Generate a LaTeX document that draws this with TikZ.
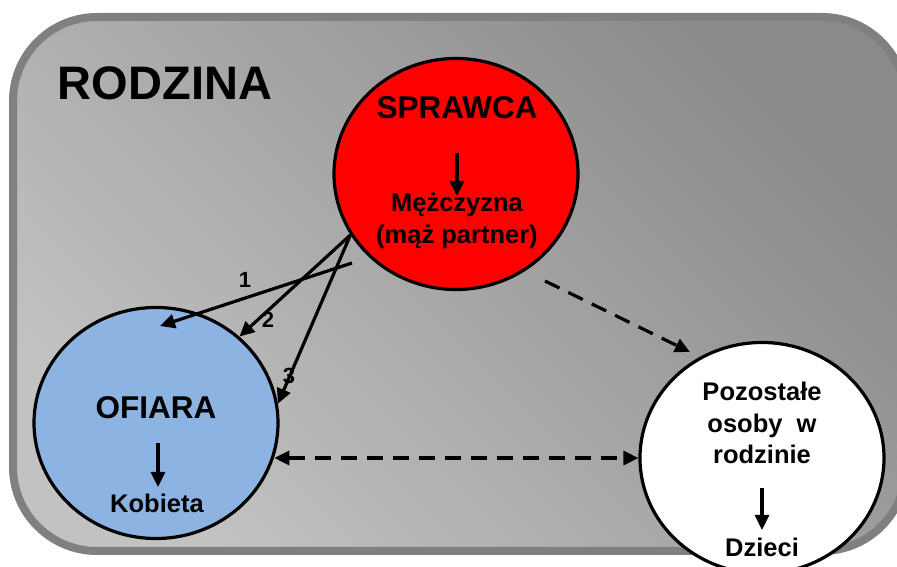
\documentclass[tikz,border=0pt]{standalone}
\usepackage{fontspec}
\setmainfont{Liberation Sans}
\usetikzlibrary{arrows.meta,shapes.geometric}
\definecolor{frame}{HTML}{808080}
\definecolor{bgdark}{HTML}{8A8A8A}
\definecolor{bglight}{HTML}{C2C2C2}
\definecolor{victim}{HTML}{8DB3E2}

\begin{document}
\begin{tikzpicture}[x=1pt,y=1pt,
  person/.style={draw,ellipse,line width=3.2pt,minimum width=244pt,minimum height=231pt,inner sep=0pt},
  big/.style={font=\fontsize{31.5}{36}\selectfont\bfseries},
  small/.style={font=\fontsize{25.5}{31.5}\selectfont\bfseries,align=center},
  num/.style={font=\fontsize{22}{24}\selectfont\bfseries},
  tip/.style={line width=3.2pt,-{Triangle[length=15pt,width=14pt]}},
  link/.style={line width=3.2pt,dash pattern=on 16pt off 10pt}]
\useasboundingbox (0,0) rectangle (897,567);
\shade[draw=frame,line width=8pt,rounded corners=84pt,top color=bgdark,bottom color=bglight,shading angle=-45] (13,16) rectangle (906,550);
\draw (165,484) node[font=\fontsize{47}{52}\selectfont\bfseries](rodzina) {RODZINA};

% the three people
\draw (456,393) node[person,fill=red](sprawca) {};
\draw (156,144) node[person,fill=victim](ofiara) {};
\draw (762,109) node[person,fill=white](reszta) {};

\draw (457,459) node[big](sprtitle) {SPRAWCA};
\draw (457,346) node[small](sprsub) {Mężczyzna\\(mąż partner)};
\coordinate (sprA) at (457,414);
\coordinate (sprB) at (457,371);
\draw[tip] (sprA) -- (sprB);

\draw (156,159) node[big](oftitle) {OFIARA};
\draw (157,64) node[small](ofsub) {Kobieta};
\coordinate (ofA) at (158,124);
\coordinate (ofB) at (158,80);
\draw[tip] (ofA) -- (ofB);

\draw (762,144) node[small](rstitle) {Pozostałe\\osoby~~w\\rodzinie};
\draw (762,20) node[small](rssub) {Dzieci};
\coordinate (rsA) at (762,79);
\coordinate (rsB) at (762,37);
\draw[tip] (rsA) -- (rsB);

% violence
\coordinate (start1) at (352,304);
\coordinate (end1) at (160,241);
\draw[tip] (start1) -- (end1);
\draw[tip] (sprawca.210) -- (ofiara.46);
\draw[tip] (sprawca.210) -- (ofiara.9);
\draw (245,287) node[num](n1) {1};
\draw (268,247) node[num](n2) {2};
\draw (289,191) node[num](n3) {3};

% other relations
\coordinate (dashA) at (545,286);
\coordinate (dashB) at (690,215);
\draw[link,-{Triangle[length=15pt,width=14pt]}] (dashA) -- (dashB);
\draw[link,{Triangle[length=15pt,width=14pt]}-{Triangle[length=15pt,width=14pt]}] (ofiara.-16 |- reszta.west) -- (reszta.west);
\end{tikzpicture}
\end{document}
